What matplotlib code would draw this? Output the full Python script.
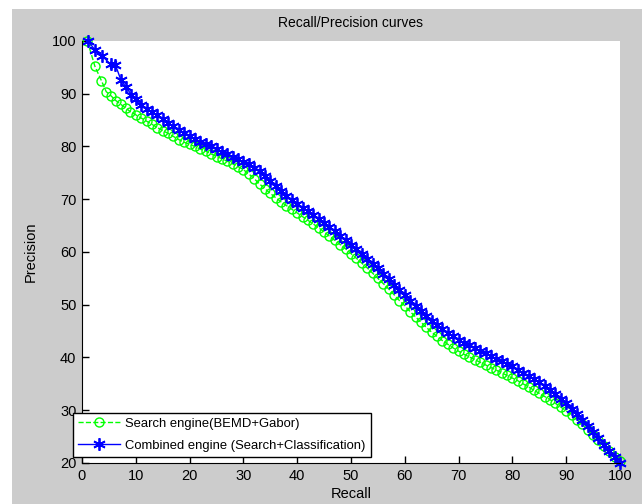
import matplotlib
matplotlib.use("Agg")
import matplotlib.pyplot as plt
from matplotlib.patches import Rectangle

plt.rcParams['font.family'] = ['Liberation Sans', 'DejaVu Sans']

# Search engine (BEMD+Gabor)
search_recall = [1.0, 2.4, 3.6, 4.5, 5.4, 6.3, 7.2, 8.1, 9.0] + list(range(10, 101))
search_precision = [100, 95.2, 92.5, 90.4, 89.6, 88.7, 88.0, 87.3, 86.6,
                    86.0, 85.4, 84.8, 84.2, 83.6, 83.0, 82.5, 81.9, 81.3, 80.8,
                    80.4, 80.0, 79.5, 79.1, 78.6, 78.1, 77.7, 77.2, 76.7, 76.2,
                    75.6, 74.8, 73.9, 72.9, 72.0, 71.1, 70.3, 69.5, 68.8, 68.1,
                    67.4, 66.7, 66.0, 65.3, 64.6, 63.8, 63.0, 62.2, 61.4, 60.6,
                    59.7, 58.8, 57.9, 57.0, 56.0, 55.0, 54.0, 53.0, 51.9, 50.8,
                    49.8, 48.7, 47.7, 46.7, 45.7, 44.8, 44.0, 43.2, 42.5, 41.8,
                    41.2, 40.6, 40.1, 39.6, 39.1, 38.6, 38.1, 37.6, 37.1, 36.6,
                    36.1, 35.6, 35.0, 34.4, 33.8, 33.2, 32.6, 32.0, 31.3, 30.6,
                    29.9, 29.1, 28.2, 27.3, 26.3, 25.3, 24.3, 23.3, 22.2, 21.2,
                    20.3]

# Combined engine (Search+Classification)
combined_recall = [1.1, 2.5, 3.7, 5.3, 6.2, 7.2, 8.2, 9.2] + list(range(10, 101))
combined_precision = [100, 98.2, 97.2, 95.6, 95.5, 92.7, 91.2, 89.8,
                      89.0, 87.9, 87.2, 86.5, 85.9, 85.2, 84.5, 83.8, 83.2, 82.6,
                      82.0, 81.5, 80.9, 80.5, 80.0, 79.5, 79.0, 78.5, 78.0, 77.6,
                      77.1, 76.6, 76.0, 75.3, 74.4, 73.4, 72.5, 71.5, 70.7, 69.9,
                      69.1, 68.4, 67.7, 67.0, 66.3, 65.5, 64.7, 63.9, 63.0, 62.2,
                      61.4, 60.5, 59.6, 58.7, 57.8, 56.9, 55.9, 54.9, 53.8, 52.8,
                      51.8, 50.8, 49.8, 48.8, 47.9, 47.0, 46.2, 45.4, 44.7, 44.0,
                      43.4, 42.8, 42.3, 41.8, 41.3, 40.8, 40.3, 39.8, 39.3, 38.8,
                      38.3, 37.7, 37.1, 36.5, 35.9, 35.3, 34.6, 33.9, 33.1, 32.2,
                      31.3, 30.3, 29.3, 28.2, 27.1, 25.9, 24.7, 23.5, 22.3, 21.1,
                      20.0]

x_ticks = list(range(0, 101, 10))
y_ticks = list(range(20, 101, 10))

fig = plt.figure(figsize=(6.42, 5.04), dpi=100, facecolor='white')
# grey figure panel like the MATLAB window
bg = Rectangle((12 / 642, 0), 1, 1 - 9 / 504, transform=fig.transFigure,
               facecolor='#cccccc', edgecolor='none', zorder=-10)
fig.add_artist(bg)

ax = fig.add_axes([82 / 642, 1 - 463 / 504, 538 / 642, 422 / 504])
ax.set_facecolor('white')

ax.plot(search_recall, search_precision, linestyle='--', color='#00ff00', linewidth=1,
        marker='o', markersize=6.5, markerfacecolor='none', markeredgewidth=1,
        label='Search engine(BEMD+Gabor)', clip_on=False)
ax.plot(combined_recall, combined_precision, linestyle='-', color='#0000ff', linewidth=1,
        marker=(6, 2, 0), markersize=9, markeredgewidth=1.3,
        label='Combined engine (Search+Classification)', clip_on=False)

ax.set_xlim(0, 100)
ax.set_ylim(20, 100)
ax.set_xticks(x_ticks)
ax.set_yticks(y_ticks)
ax.tick_params(direction='in', length=5, width=1, labelsize=10.5, colors='black', pad=4)
ax.spines['top'].set_visible(False)
ax.spines['right'].set_visible(False)

ax.set_title('Recall/Precision curves', fontsize=10, pad=10)
ax.set_xlabel('Recall', fontsize=10.5, labelpad=3)
ax.set_ylabel('Precision', fontsize=10.5, labelpad=10)

leg = ax.legend(loc='lower left', bbox_to_anchor=(-0.017, 0.014), fontsize=9.4,
                fancybox=False, framealpha=1, edgecolor='black', borderpad=0.4,
                handlelength=3.2, handletextpad=0.4, labelspacing=0.75,
                borderaxespad=0)
leg.get_frame().set_linewidth(1)

fig.savefig('out.png', dpi=100, facecolor='white')
